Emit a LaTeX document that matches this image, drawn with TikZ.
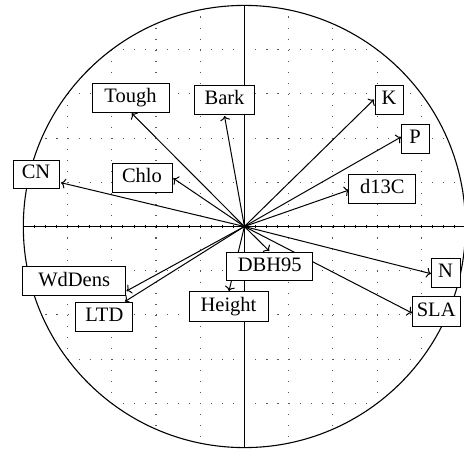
\documentclass[tikz,border=0pt]{standalone}
\usepackage{fontspec}
\setmainfont{Liberation Serif}
\usetikzlibrary{arrows.meta,calc}
\begin{document}
\begin{tikzpicture}[x=1pt,y=-1pt,
  lbl/.style={draw=black, fill=white, line width=1pt, inner sep=0pt,
    font=\fontsize{20.5}{24}\selectfont, text height=14pt, text depth=4.5pt},
  vec/.style={line width=1pt, -{To[length=4.5pt,width=10pt]}},
  grd/.style={black!65, line width=1.1pt, dash pattern=on 1.1pt off 9.95pt},
  axis/.style={line width=1pt},
  tick/.style={line width=0.6pt},
  rim/.style={line width=1.1pt}]
\useasboundingbox (0,0) rectangle (464,453);
\clip (0,0) rectangle (464,453);
\coordinate (O) at (244.4,226.5);
% grid clipped to the circle
\begin{scope}
  \clip (O) circle (221.1);
  \foreach \k in {-4,-3,-2,-1,1,2,3,4}{
    \draw[grd] ($(O)+(\k*44.22,-221.1)$) -- ($(O)+(\k*44.22,221.1)$);
    \draw[grd] ($(O)+(-221.1,\k*44.22)$) -- ($(O)+(221.1,\k*44.22)$);
  }
\end{scope}
% circle and axes
\draw[rim] (O) circle (221.1);
\coordinate (axL) at (23.3,226.5);
\coordinate (axR) at (465.5,226.5);
\coordinate (axT) at (244.4,5.4);
\coordinate (axB) at (244.4,447.6);
\draw[axis] (axL) -- (axR);
\draw[axis] (axT) -- (axB);
\foreach \i in {-20,...,20}{
  \draw[tick] ($(O)+(\i*11.055,-1.1)$) -- ($(O)+(\i*11.055,1.1)$);
}
% arrow tips
\coordinate (tTough) at (131.7,113.3);
\coordinate (tBark) at (224.5,116);
\coordinate (tCN) at (61,182.7);
\coordinate (tChlo) at (173.3,178.3);
\coordinate (tK) at (374,99.5);
\coordinate (tP) at (401,137);
\coordinate (td13C) at (349,190);
\coordinate (tWdDens) at (126.5,291);
\coordinate (tLTD) at (125,301.5);
\coordinate (tHeight) at (229,291);
\coordinate (tDBH) at (269.3,251);
\coordinate (tN) at (431,273.7);
\coordinate (tSLA) at (412,313);
\foreach \t in {tTough,tBark,tCN,tChlo,tK,tP,td13C,tWdDens,tLTD,tHeight,tDBH,tN,tSLA}{
  \draw[vec] (O) -- (\t);
}
% labels
\node[lbl, minimum width=77pt, minimum height=29pt] (Tough) at (130.5,97.5) {Tough};
\node[lbl, minimum width=59.5pt, minimum height=28.3pt] (Bark) at (224.5,100.1) {Bark};
\node[lbl, minimum width=46pt, minimum height=28pt] (CN) at (36,174) {CN};
\node[lbl, minimum width=60pt, minimum height=29pt] (Chlo) at (142,177.5) {Chlo};
\node[lbl, minimum width=28pt, minimum height=29pt] (K) at (389,99.5) {K};
\node[lbl, minimum width=28pt, minimum height=29pt] (P) at (415,138.5) {P};
\node[lbl, minimum width=67.3pt, minimum height=29pt] (d13C) at (382.3,188.5) {d13C};
\node[lbl, minimum width=103pt, minimum height=29.3pt] (WdDens) at (74.2,281.3) {WdDens};
\node[lbl, minimum width=56.7pt, minimum height=29pt] (LTD) at (104.3,316.5) {LTD};
\node[lbl, minimum width=79pt, minimum height=29.7pt] (Height) at (228.5,306.8) {Height};
\node[lbl, minimum width=86pt, minimum height=28.3pt] (DBH) at (269.7,266.8) {DBH95};
\node[lbl, minimum width=29pt, minimum height=28.5pt] (N) at (445.5,273.2) {N};
\node[lbl, minimum width=48pt, minimum height=30pt] (SLA) at (436.2,311.7) {SLA};
\end{tikzpicture}
\end{document}
